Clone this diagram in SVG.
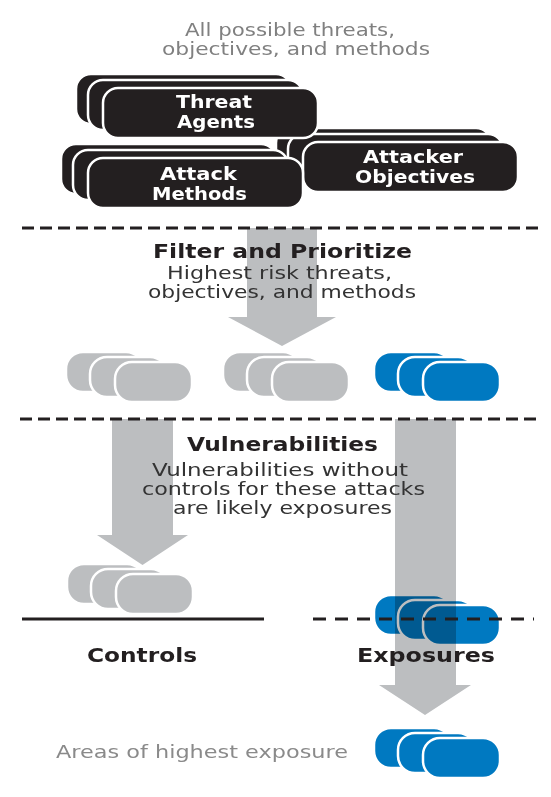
<svg xmlns="http://www.w3.org/2000/svg" xmlns:xlink="http://www.w3.org/1999/xlink" width="551" height="797" viewBox="0 0 551 797">
  <style>
    .card { stroke: #ffffff; stroke-width: 2.5; }
    .big { fill: #231f20; }
    .gray { fill: #bcbec0; }
    .blue { fill: #0079c1; }
    .lbl { font-family: "DejaVu Sans", "Liberation Sans", sans-serif; font-weight: bold; font-size: 18px; fill: #ffffff; }
    .head { font-family: "DejaVu Sans", "Liberation Sans", sans-serif; font-weight: bold; font-size: 20px; fill: #231f20; }
    .sub { font-family: "DejaVu Sans", "Liberation Sans", sans-serif; font-size: 18px; fill: #333333; }
    .note { font-family: "DejaVu Sans", "Liberation Sans", sans-serif; font-size: 18px; fill: #808080; }
    .dash { stroke: #231f20; stroke-width: 3; fill: none; stroke-dasharray: 12 6; }
    .arrow { fill: #bcbec0; mix-blend-mode: multiply; }
  </style>
  <defs>
    <g id="bigstack">
      <rect class="card" x="0" y="0" width="215" height="50" rx="15"/>
      <rect class="card" x="12" y="6" width="215" height="50" rx="15"/>
      <rect class="card" x="27" y="14" width="215" height="50" rx="15"/>
    </g>
    <g id="stack">
      <rect class="card" x="0" y="0" width="77" height="40" rx="17"/>
      <rect class="card" x="24" y="5" width="77" height="40" rx="17"/>
      <rect class="card" x="49" y="10" width="77" height="40" rx="17"/>
    </g>
  </defs>

  <rect x="0" y="0" width="551" height="797" fill="#ffffff"/>

  <g id="intro">
    <text class="note" x="185" y="36" textLength="210" lengthAdjust="spacingAndGlyphs">All possible threats,</text>
    <text class="note" x="162" y="55" textLength="268" lengthAdjust="spacingAndGlyphs">objectives, and methods</text>
  </g>

  <g id="attacker-objectives">
    <use xlink:href="#bigstack" href="#bigstack" x="276" y="128" class="big"/>
    <text class="lbl" x="363" y="163" textLength="100" lengthAdjust="spacingAndGlyphs">Attacker</text>
    <text class="lbl" x="355" y="183" textLength="120" lengthAdjust="spacingAndGlyphs">Objectives</text>
  </g>
  <g id="threat-agents">
    <use xlink:href="#bigstack" href="#bigstack" x="76" y="74" class="big"/>
    <text class="lbl" x="176" y="108" textLength="76" lengthAdjust="spacingAndGlyphs">Threat</text>
    <text class="lbl" x="177" y="128" textLength="78" lengthAdjust="spacingAndGlyphs">Agents</text>
  </g>
  <g id="attack-methods">
    <use xlink:href="#bigstack" href="#bigstack" x="61" y="144" class="big"/>
    <text class="lbl" x="160" y="180" textLength="77" lengthAdjust="spacingAndGlyphs">Attack</text>
    <text class="lbl" x="152" y="200" textLength="95" lengthAdjust="spacingAndGlyphs">Methods</text>
  </g>

  <g id="prioritized">
    <use xlink:href="#stack" href="#stack" x="66" y="352" class="gray"/>
    <use xlink:href="#stack" href="#stack" x="223" y="352" class="gray"/>
    <use xlink:href="#stack" href="#stack" x="374" y="352" class="blue"/>
  </g>

  <g id="controls-stack">
    <use xlink:href="#stack" href="#stack" x="67" y="564" class="gray"/>
  </g>
  <g id="exposures-stack">
    <use xlink:href="#stack" href="#stack" x="374" y="595" class="blue"/>
  </g>
  <g id="highest-exposure">
    <use xlink:href="#stack" href="#stack" x="374" y="728" class="blue"/>
  </g>

  <g id="connectors">
    <path class="arrow" d="M247,228 H317 V317 H336 L282,346 L228,317 H247 Z"/>
    <path class="arrow" d="M112,419 H173 V535 H188 L142.5,565 L97,535 H112 Z"/>
    <path class="arrow" d="M395,419 H456 V685 H471 L425,715 L379,685 H395 Z"/>
  </g>

  <g id="separators">
    <line class="dash" x1="22" y1="228" x2="540" y2="228"/>
    <line class="dash" x1="20" y1="419" x2="540" y2="419"/>
    <line x1="22" y1="619" x2="264" y2="619" stroke="#231f20" stroke-width="3"/>
    <line class="dash" x1="313" y1="619" x2="534" y2="619" style="stroke-dasharray: 13 9"/>
  </g>

  <g id="filter">
    <text class="head" x="153" y="258" textLength="259" lengthAdjust="spacingAndGlyphs">Filter and Prioritize</text>
    <text class="sub" x="167" y="279" textLength="225" lengthAdjust="spacingAndGlyphs">Highest risk threats,</text>
    <text class="sub" x="148" y="298" textLength="268" lengthAdjust="spacingAndGlyphs">objectives, and methods</text>
  </g>

  <g id="vulnerabilities">
    <text class="head" x="187" y="451" textLength="191" lengthAdjust="spacingAndGlyphs">Vulnerabilities</text>
    <text class="sub" x="152" y="476" textLength="256" lengthAdjust="spacingAndGlyphs">Vulnerabilities without</text>
    <text class="sub" x="142" y="495" textLength="283" lengthAdjust="spacingAndGlyphs">controls for these attacks</text>
    <text class="sub" x="173" y="514" textLength="219" lengthAdjust="spacingAndGlyphs">are likely exposures</text>
  </g>

  <g id="controls">
    <text class="head" x="87" y="662" textLength="110" lengthAdjust="spacingAndGlyphs">Controls</text>
  </g>
  <g id="exposures">
    <text class="head" x="357" y="662" textLength="138" lengthAdjust="spacingAndGlyphs">Exposures</text>
  </g>
  <g id="areas">
    <text class="note" x="56" y="758" textLength="292" lengthAdjust="spacingAndGlyphs" style="fill:#8a8a8a">Areas of highest exposure</text>
  </g>
</svg>
